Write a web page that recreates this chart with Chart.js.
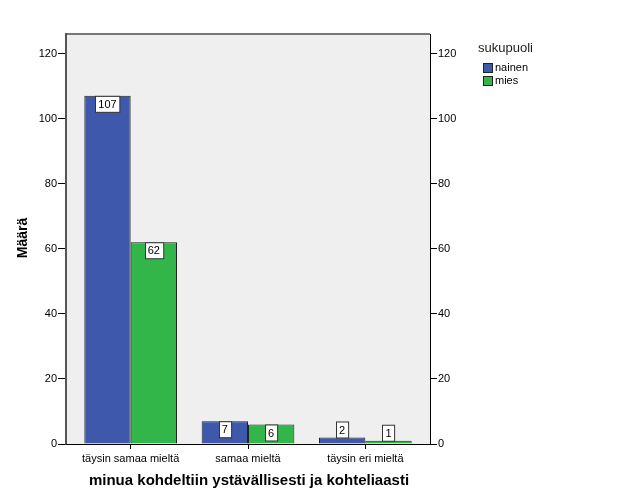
<!DOCTYPE html>
<html>
<head>
<meta charset="utf-8">
<script src="https://cdn.jsdelivr.net/npm/chart.js@4"></script>
<style>
  body { margin: 0; background: #fff; }
  #wrap { width: 629px; height: 504px; }
</style>
</head>
<body>
<div id="wrap"><canvas id="chart" width="629" height="504"></canvas></div>
<script>
const categories = ['täysin samaa mieltä', 'samaa mieltä', 'täysin eri mieltä'];
const nainen = [107, 7, 2];
const mies = [62, 6, 1];
const seriesLabels = ['nainen', 'mies'];
const yTicks = [0, 20, 40, 60, 80, 100, 120];

const seriesColors = ['#3e58ac', '#32b64a'];
const FONT = '"Liberation Sans", Arial, sans-serif';
const innerMargin = 6;

const ctx = document.getElementById('chart');

const decorations = {
    id: 'decorations',
    afterLayout(chart) {
        // SPSS leaves a small gap between the frame and the first/last category
        const x = chart.scales.x, a = chart.chartArea;
        x.left = a.left + innerMargin;
        x.right = a.right - innerMargin;
        x.width = x.right - x.left;
        x.configure();
    },
    beforeDraw(chart) {
        const c = chart.ctx, a = chart.chartArea;
        c.save();
        c.fillStyle = '#efefef';
        c.fillRect(a.left, a.top, a.right - a.left, a.bottom - a.top);
        c.strokeStyle = '#777';
        c.lineWidth = 2;
        c.beginPath();
        c.moveTo(a.left, a.top);
        c.lineTo(a.right, a.top);
        c.stroke();
        c.restore();
    },
    afterDatasetsDraw(chart) {
        const c = chart.ctx, a = chart.chartArea;
        c.save();
        c.strokeStyle = '#000';
        c.lineWidth = 1;
        c.beginPath();
        c.moveTo(a.left, Math.round(a.bottom) + 0.5);
        c.lineTo(a.right, Math.round(a.bottom) + 0.5);
        c.stroke();
        c.font = '11px ' + FONT;
        c.textAlign = 'center';
        c.textBaseline = 'middle';
        chart.data.datasets.forEach((ds, i) => {
            chart.getDatasetMeta(i).data.forEach((bar, j) => {
                const txt = String(ds.data[j]);
                const w = c.measureText(txt).width + 6;
                const h = 16;
                const barH = bar.base - bar.y;
                const top = barH > h + 2 ? bar.y : bar.y - h;
                const x = Math.round(bar.x - w / 2) + 0.5;
                c.fillStyle = '#fff';
                c.fillRect(x, top + 0.5, w, h);
                c.strokeStyle = '#333';
                c.lineWidth = 1;
                c.strokeRect(x, top + 0.5, w, h);
                c.fillStyle = '#000';
                c.fillText(txt, bar.x, top + h / 2 + 1);
            });
        });
        c.restore();
    },
    afterDraw(chart) {
        const c = chart.ctx, a = chart.chartArea;
        c.save();
        c.fillStyle = '#000';
        c.textAlign = 'center';
        c.textBaseline = 'middle';
        // axis titles
        c.font = 'bold 15px ' + FONT;
        c.fillText('minua kohdeltiin ystävällisesti ja kohteliaasti', (a.left + a.right) / 2 + 1, 481);
        c.save();
        c.translate(23, (a.top + a.bottom) / 2 - 1);
        c.rotate(-Math.PI / 2);
        c.font = 'bold 14px ' + FONT;
        c.fillText('Määrä', 0, 0);
        c.restore();
        // legend
        c.textAlign = 'left';
        c.font = '13px ' + FONT;
        c.fillStyle = '#222';
        c.fillText('sukupuoli', 478, 48);
        c.font = '11px ' + FONT;
        seriesLabels.forEach((lab, i) => {
            const y = 63 + i * 13;
            c.fillStyle = seriesColors[i];
            c.fillRect(483, y, 9, 9);
            c.strokeStyle = '#222';
            c.lineWidth = 1;
            c.strokeRect(483.5, y + 0.5, 9, 9);
            c.fillStyle = '#000';
            c.fillText(lab, 495, y + 5);
        });
        c.restore();
    }
};

const tickFont = { family: FONT, size: 11 };

new Chart(ctx, {
    type: 'bar',
    data: {
        labels: categories,
        datasets: [
            { label: seriesLabels[0], data: nainen, backgroundColor: seriesColors[0] },
            { label: seriesLabels[1], data: mies, backgroundColor: seriesColors[1] },
        ].map(d => Object.assign(d, {
            borderColor: '#222',
            borderWidth: 1,
            borderSkipped: 'bottom',
            categoryPercentage: 0.79,
            barPercentage: 1,
        }))
    },
    options: {
        responsive: false,
        animation: false,
        layout: { padding: { top: 34, left: 0, right: 0, bottom: 0 } },
        plugins: { legend: { display: false }, tooltip: { enabled: false } },
        scales: {
            x: {
                grid: { display: true, drawOnChartArea: false, offset: false, tickLength: 5, color: '#000' },
                border: { display: false },
                ticks: { color: '#000', font: tickFont, padding: 3, maxRotation: 0 },
                afterFit(scale) { scale.height = 60; }
            },
            y: {
                position: 'left',
                min: 0, max: 126,
                afterBuildTicks(scale) { scale.ticks = yTicks.map(v => ({ value: v })); },
                grid: { drawOnChartArea: false, tickLength: 8, color: '#000' },
                border: { display: true, color: '#555', width: 2 },
                ticks: { color: '#000', font: tickFont, padding: 1 },
                afterFit(scale) { scale.width = 66; }
            },
            y2: {
                position: 'right',
                min: 0, max: 126,
                afterBuildTicks(scale) { scale.ticks = yTicks.map(v => ({ value: v })); },
                grid: { drawOnChartArea: false, tickLength: 7, color: '#000' },
                border: { display: true, color: '#000', width: 1 },
                ticks: { color: '#000', font: tickFont, padding: 1 },
                afterFit(scale) { scale.width = 199; }
            }
        }
    },
    plugins: [decorations]
});
</script>
</body>
</html>
